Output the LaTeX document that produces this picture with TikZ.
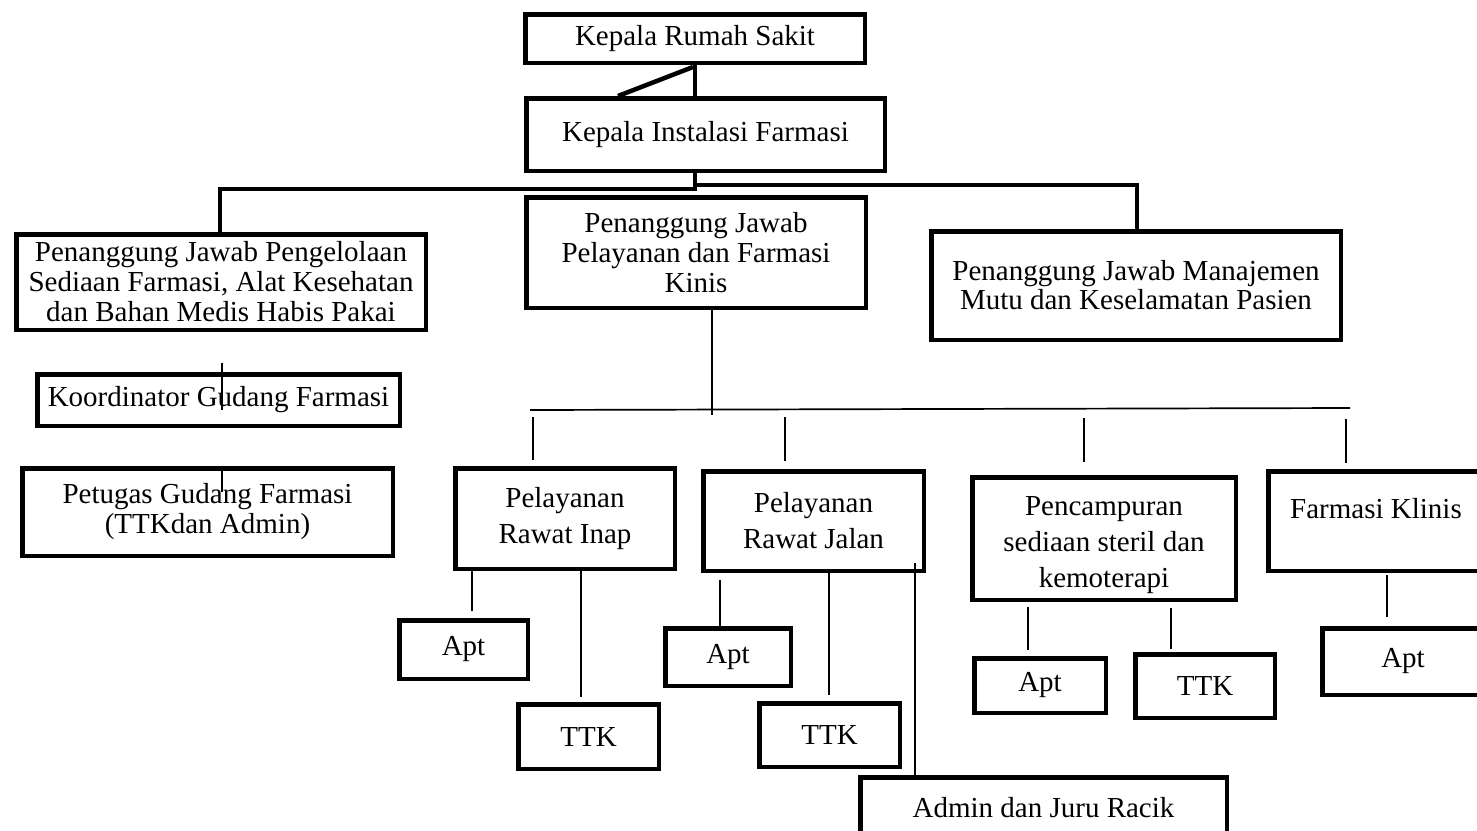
\documentclass[tikz,border=0pt]{standalone}
\usepackage{fontspec}
\setmainfont{Liberation Serif}
\usetikzlibrary{calc}
\tikzset{
  box/.style={draw, line width=4.5pt, fill=white, align=center, inner sep=0pt,
    font=\fontsize{29}{30}\selectfont},
  boxb/.style={box, font=\fontsize{29}{36}\selectfont},
  thickl/.style={line width=4.5pt},
  thinl/.style={line width=1.7pt}
}
\newcommand\BX[7][box]{\node[#1, minimum width=#5-#3-4.5, minimum height=#6-#4-4.5] (#2) at ({(#3+#5)/2},{(#4+#6)/2}) {#7};}
\begin{document}
\begin{tikzpicture}[x=1pt,y=-1pt]
\useasboundingbox (0,0) rectangle (1477,830);
\clip (0,0) rectangle (1477,830);
% boxes
\BX{KRS}{523}{12}{867}{65}{Kepala Rumah Sakit}
\BX{KIF}{524}{96}{887}{173}{Kepala Instalasi Farmasi}
\BX{PJA}{14}{232}{428}{332}{Penanggung Jawab Pengelolaan\\Sediaan Farmasi, Alat Kesehatan\\dan Bahan Medis Habis Pakai}
\BX{PJB}{524}{195}{868}{310}{Penanggung Jawab\\Pelayanan dan Farmasi\\Kinis}
\BX[box,font=\fontsize{29}{29}\selectfont]{PJC}{929}{229}{1343}{342}{Penanggung Jawab Manajemen\\Mutu dan Keselamatan Pasien}
\BX{KG}{35}{372}{402}{428}{Koordinator Gudang Farmasi}
\BX{PG}{20}{466}{395}{558}{Petugas Gudang Farmasi\\(TTKdan Admin)}
\BX[boxb]{RI}{453}{466}{677}{571}{Pelayanan\\Rawat Inap}
\BX[boxb]{RJ}{701}{469}{926}{573}{Pelayanan\\Rawat Jalan}
\BX[boxb]{PC}{970}{475}{1238}{602}{\strut\\[-29pt]Pencampuran\\sediaan steril dan\\kemoterapi}
\BX[boxb]{FK}{1266}{469}{1486}{573}{Farmasi Klinis\\[-22pt]\strut}
\BX{AptA}{397}{618}{530}{681}{Apt}
\BX{TTKA}{516}{702}{661}{771}{TTK}
\BX{AptB}{663}{626}{793}{688}{Apt}
\BX{TTKB}{757}{701}{902}{769}{TTK}
\BX{ADM}{858}{775}{1229}{840}{Admin dan Juru Racik}
\BX{AptC}{972}{656}{1108}{715}{Apt}
\BX{TTKC}{1133}{652}{1277}{720}{TTK}
\BX{AptD}{1320}{626}{1486}{697}{Apt}
% thick connectors
\coordinate (t1) at (695,191);
\coordinate (dg) at (693,67);
\coordinate (dgb) at (618,96);
\coordinate (hl) at (220,189);
\coordinate (hr) at (1137,185);
\draw[thickl] (KRS.south -| t1) -- (KIF.north -| t1);
\draw[thickl] (dg) -- (dgb);
\draw[thickl] (KIF.south -| t1) -- (t1);
\draw[thickl] (PJA.north -| hl) -- (hl) -- (hl -| t1);
\draw[thickl] (hr -| t1) -- (hr) -- (PJC.north -| hr);
% thin connectors
\coordinate (m1) at (712,415);
\draw[thinl] (PJB.south -| m1) -- (m1);
\coordinate (hb1) at (530,410);
\coordinate (hb2) at (1350,408);
\draw[thinl] (hb1) -- (hb2);
\coordinate (d1) at (533,417); \draw[thinl] (d1) -- ($(d1 |- RI.north)+(0,-6)$);
\coordinate (d2) at (785,417); \draw[thinl] (d2) -- ($(d2 |- RJ.north)+(0,-8)$);
\coordinate (d3) at (1084,418); \draw[thinl] (d3) -- ($(d3 |- PC.north)+(0,-13)$);
\coordinate (d4) at (1346,419); \draw[thinl] (d4) -- ($(d4 |- FK.north)+(0,-6)$);
% left column
\coordinate (k1) at (222,363); \coordinate (k2) at (222,410);
\draw[thinl] (k1) -- (k2);
\coordinate (p1) at (222,468); \coordinate (p2) at (222,492);
\draw[thinl] (p1) -- (p2);
% children
\coordinate (a1) at (472,567); \draw[thinl] (a1) -- ($(a1 |- AptA.north)+(0,-7)$);
\coordinate (a2) at (581,0); \draw[thinl] (RI.south -| a2) -- ($(a2 |- TTKA.north)+(0,-5)$);
\coordinate (b1) at (720,580); \draw[thinl] (b1) -- (b1 |- AptB.north);
\coordinate (b2) at (829,0); \draw[thinl] (RJ.south -| b2) -- ($(b2 |- TTKB.north)+(0,-6)$);
\coordinate (b3) at (915,563); \draw[thinl] (b3) -- (b3 |- ADM.north);
\coordinate (c1) at (1028,607); \draw[thinl] (c1) -- ($(c1 |- AptC.north)+(0,-6)$);
\coordinate (c2) at (1171,608); \draw[thinl] (c2) -- ($(c2 |- TTKC.north)+(0,-3)$);
\coordinate (f1) at (1387,575); \draw[thinl] (f1) -- ($(f1 |- AptD.north)+(0,-9)$);
\end{tikzpicture}
\end{document}
